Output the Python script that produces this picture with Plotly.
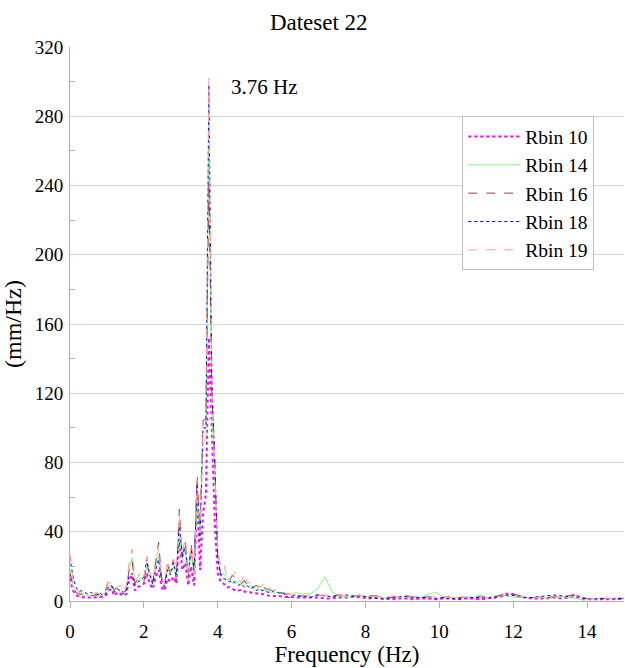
import numpy as np
import plotly.graph_objects as go

# Frequency grid (Hz): fine steps up to 6.4 Hz, coarser in the tail
freq_low = [round(0.08 * i, 2) for i in range(81)]
freq_tail = [round(6.5 + 0.2 * k, 1) for k in range(44)]
freq = freq_low + freq_tail

rbin10_low = [13, 6, 3.5, 2.5, 2.2, 2, 2, 2, 2, 2.2, 2, 2.5, 3, 6, 7, 3, 5, 4, 3, 4,
              12, 15, 6, 8, 9, 10, 16, 10, 7, 14, 18, 8, 6, 13, 11, 14, 10, 36, 18, 22,
              9, 20, 9, 62, 18, 50, 62, 152, 100, 45, 16, 11, 10, 8, 8, 7, 6, 6, 6.5, 5.5,
              5, 5, 4.5, 4.5, 4, 4, 3.5, 3.2, 3, 3, 3, 2.8, 2.5, 2.5, 2.3, 2.2, 2.2, 2, 2, 2, 1.8]
rbin14_low = [18, 9, 5, 4, 3.5, 3, 3.5, 3, 3, 3.5, 3, 4, 5, 9, 8, 6, 7, 5, 4, 7,
              18, 25, 10, 12, 13, 12, 20, 14, 9, 20, 26, 11, 8, 19, 16, 20, 14, 40, 24, 30,
              12, 28, 15, 60, 38, 90, 95, 262, 110, 70, 28, 14, 16, 12, 13, 10, 12, 10, 9, 11,
              8, 9, 7, 8, 6, 7, 6, 6, 5, 5, 5, 4, 4.5, 4, 4.5, 3.5, 5, 4.5, 4, 4, 4.5]
rbin16_low = [16, 9, 5, 4, 4, 3.5, 3, 3.5, 3, 4, 3.5, 3, 6, 12, 10, 6, 9, 7, 5, 6,
              18, 23, 10, 13, 12, 11, 22, 15, 11, 22, 34, 13, 9, 21, 16, 24, 12, 53, 26, 35,
              13, 33, 17, 73, 45, 104, 105, 242, 120, 82, 24, 16, 14, 13, 12, 15, 13, 11, 10, 12,
              9, 10, 8, 9, 8, 10.5, 7, 7, 6, 6, 5, 5, 4.5, 4, 4, 3.5, 3.5, 3, 3, 3, 3.2]
rbin18_low = [25, 14, 8, 5.5, 6, 5, 4, 5, 4, 3.5, 5, 3, 4, 8, 9, 5, 7, 6, 4, 6,
              14, 16, 9, 11, 12, 14, 24, 15, 10, 18, 24, 12, 8, 18, 15, 22, 15, 45, 25, 32,
              16, 30, 18, 68, 35, 100, 100, 298, 130, 80, 25, 15, 13, 12, 11, 12, 10, 9, 10, 8,
              9, 7, 8, 6, 7, 6, 6, 5, 5, 6, 5, 4.5, 5, 3, 2, 3, 3.5, 3, 2.5, 2.8, 2.5]
rbin19_low = [27, 12, 7, 5, 4.5, 4, 5, 4, 4.5, 5, 4, 5, 7, 11, 10, 6, 8, 9, 5, 8,
              22, 30, 12, 14, 18, 14, 26, 17, 12, 24, 30, 14, 10, 24, 17, 24, 18, 50, 28, 36,
              14, 32, 16, 70, 40, 106, 110, 302, 140, 75, 30, 20, 22, 14, 16, 14, 17, 12, 11, 16,
              10, 11, 9, 10, 8, 9, 11, 8, 7, 6, 7, 5, 5, 4.5, 4, 4, 3.5, 3, 3.5, 3, 3]

rbin10_tail = [1.8, 2, 1.5, 1.5, 2, 2, 2.5, 2, 1.5, 2, 1.5, 1, 1.5, 1.5, 1, 1.5, 1.5, 1, 1.5, 1.5,
               1, 1.5, 1.5, 1, 1.5, 2, 3.5, 4.5, 3, 2, 1.5, 1.5, 1.5, 2, 1.5, 2, 2.5, 1, 0.8, 1,
               1, 1.2, 1.2, 1.2]
rbin14_tail = [4, 7, 14, 5, 3, 2.5, 2.5, 3, 2.5, 2.5, 2, 2, 2.5, 2, 2, 2, 4, 5, 2.5, 2,
               2, 2.5, 2, 3.5, 2, 3, 3.5, 2.5, 2, 2, 2, 2.5, 2, 1.5, 2.5, 2, 1.5, 0.5, 1, 1.5,
               1.5, 1.5, 1.5, 1.5]
rbin16_tail = [3, 3.5, 3, 3, 3.5, 3, 3, 3.5, 3, 3, 2.5, 2, 2.5, 3, 2.5, 2, 2.5, 2, 2, 2.5,
               2, 2, 2, 2.5, 2, 2.5, 3.5, 4.5, 3.5, 2.5, 2, 2, 2, 2.5, 2.5, 3, 4, 2, 1, 1,
               1.5, 1.5, 1.5, 1.5]
rbin18_tail = [2, 3.5, 3, 2.5, 3, 3.5, 2.5, 3, 2, 1.5, 1, 2, 2.5, 2.5, 2, 2, 2, 1.5, 2, 1.5,
               1, 2, 2, 2, 2, 2, 2.5, 3.5, 3, 2, 2, 2.5, 3, 3.5, 3, 2.5, 3.5, 1.5, 1, 1.5,
               1.5, 1.5, 1.5, 1.5]
rbin19_tail = [3, 3, 3.5, 3, 3, 3.5, 3, 3, 3.5, 2.5, 2.5, 3, 2.5, 2, 2.5, 3, 2, 2.5, 2, 2,
               2.5, 2, 2.5, 2.5, 2, 2, 3, 3.5, 3, 2.5, 2, 2, 2, 2.5, 2, 2.5, 3, 1.5, 1, 1.5,
               1.5, 1.5, 1.5, 1.5]

series_names = ["Rbin 10", "Rbin 14", "Rbin 16", "Rbin 18", "Rbin 19"]
series_values = [rbin10_low + rbin10_tail, rbin14_low + rbin14_tail, rbin16_low + rbin16_tail,
                 rbin18_low + rbin18_tail, rbin19_low + rbin19_tail]
styles = [
    dict(color="#ff00ff", width=2, dash="dot"),
    dict(color="#80ff80", width=1, dash="solid"),
    dict(color="#a04040", width=1, dash="dash"),
    dict(color="#0000ff", width=1, dash="dot"),
    dict(color="#ff9c9c", width=1, dash="dash"),
]

peak_freq = 3.76
peak_label = "3.76 Hz"

FONT = "Liberation Serif, Times New Roman, serif"

fig = go.Figure()
for name, vals, st in zip(series_names, series_values, styles):
    fig.add_trace(go.Scatter(x=freq, y=vals, mode="lines", name=name, line=st))

fig.add_annotation(x=5.27, y=297, text=peak_label, showarrow=False,
                   font=dict(family=FONT, size=21, color="black"))

fig.update_layout(
    width=625, height=668,
    margin=dict(l=70, r=1, t=47, b=67),
    paper_bgcolor="white", plot_bgcolor="white",
    font=dict(family=FONT, color="black"),
    title=dict(text="Dateset 22", x=0.51, xanchor="center", y=0.967, yanchor="middle",
               font=dict(family=FONT, size=23, color="black")),
    showlegend=True,
    legend=dict(x=0.708, y=0.875, xanchor="left", yanchor="top",
                bgcolor="white", bordercolor="#c0c0c0", borderwidth=1,
                font=dict(family=FONT, size=19.5, color="black"),
                itemwidth=52, tracegroupgap=0),
    xaxis=dict(range=[0, 15], dtick=2, tick0=0, showgrid=False, zeroline=False,
               showline=True, linecolor="#b0b0b0", linewidth=1,
               ticks="outside", ticklen=6, tickcolor="#b0b0b0",
               ticklabelstandoff=7,
               tickfont=dict(family=FONT, size=19, color="black"),
               title=dict(text="Frequency (Hz)", standoff=4,
                          font=dict(family=FONT, size=23, color="black"))),
    yaxis=dict(range=[0, 320], dtick=40, tick0=0, showgrid=True, gridcolor="#d3d3d3",
               gridwidth=1, zeroline=False, showline=True, linecolor="#b0b0b0", linewidth=1,
               ticks="", ticklabelstandoff=2,
               minor=dict(dtick=20, ticks="inside", ticklen=5, tickcolor="#b0b0b0", showgrid=False),
               tickfont=dict(family=FONT, size=19, color="black"),
               title=dict(text="(mm/Hz)", standoff=8,
                          font=dict(family=FONT, size=24, color="black"))),
)

fig.write_html("out.html")
